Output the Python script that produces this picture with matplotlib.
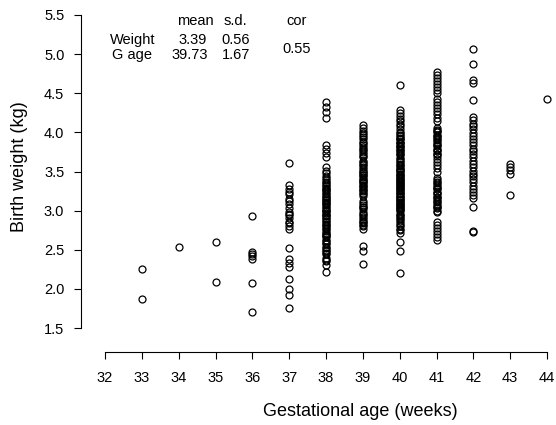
import matplotlib
matplotlib.use("Agg")
import matplotlib.pyplot as plt

plt.rcParams['font.family'] = ['Liberation Sans', 'DejaVu Sans']

# ---- data (gestational age in weeks -> birth weights in kg) ----
w33 = [2.26, 1.87]
w34 = [2.53]
w35 = [2.60, 2.09]
w36 = [2.93, 2.47, 2.45, 2.42, 2.38, 2.08, 1.70]
w37 = [3.61, 3.33, 3.27, 3.24, 3.21, 3.15, 3.12, 3.09, 3.03, 2.98, 2.96, 2.94, 2.90,
       2.86, 2.84, 2.80, 2.76, 2.52, 2.38, 2.33, 2.28, 2.12, 2.00, 1.92, 1.75]
w38 = [4.39, 4.33, 4.26, 4.18, 3.84, 3.79, 3.74, 3.69, 3.56, 3.51, 3.48, 3.44, 3.42,
       3.39, 3.36, 3.35, 3.31, 3.29, 3.26, 3.25, 3.21, 3.19, 3.18, 3.14, 3.11, 3.10,
       3.07, 3.05, 3.01, 3.00, 2.97, 2.94, 2.93, 2.89, 2.87, 2.85, 2.81, 2.80, 2.77,
       2.74, 2.72, 2.69, 2.66, 2.63, 2.61, 2.57, 2.54, 2.50, 2.48, 2.44, 2.40, 2.35,
       2.30, 2.22, 3.33, 3.28, 3.23, 3.16, 3.13, 3.08, 3.03, 2.99, 2.95, 2.91, 2.83,
       2.78, 2.70, 2.67, 2.59, 2.52, 2.46, 2.37]
w39 = [4.10, 4.06, 4.02, 3.99, 3.94, 3.91, 3.88, 3.84, 3.81, 3.79, 3.75, 3.72, 3.70,
       3.64, 3.62, 3.58, 3.56, 3.53, 3.51, 3.48, 3.46, 3.43, 3.41, 3.38, 3.36, 3.33,
       3.31, 3.28, 3.25, 3.21, 3.19, 3.10, 3.07, 3.04, 3.02, 2.98, 2.96, 2.92, 2.89,
       2.86, 2.84, 2.80, 2.76, 2.55, 2.49, 2.32, 3.97, 3.86, 3.77, 3.68, 3.60, 3.50,
       3.45, 3.39, 3.35, 3.30, 3.26, 3.23, 3.12, 3.05, 2.94, 2.87, 2.82]
w40 = [4.61, 4.29, 4.25, 4.21, 4.17, 4.14, 4.11, 4.08, 4.04, 4.01, 3.99, 3.96, 3.93,
       3.91, 3.88, 3.86, 3.83, 3.81, 3.79, 3.76, 3.74, 3.71, 3.67, 3.64, 3.62, 3.60,
       3.58, 3.55, 3.53, 3.51, 3.49, 3.47, 3.45, 3.43, 3.41, 3.39, 3.37, 3.35, 3.33,
       3.31, 3.29, 3.27, 3.25, 3.23, 3.21, 3.19, 3.17, 3.15, 3.13, 3.11, 3.09, 3.07,
       3.05, 3.03, 3.01, 2.99, 2.96, 2.93, 2.90, 2.87, 2.84, 2.80, 2.77, 2.75, 2.71,
       2.60, 2.49, 2.20, 3.97, 3.92, 3.87, 3.82, 3.77, 3.72, 3.66, 3.57, 3.52, 3.46,
       3.42, 3.38, 3.34, 3.30, 3.26, 3.22, 3.18, 3.14, 3.10, 3.06, 3.02, 2.95, 2.89,
       2.82]
w41 = [4.77, 4.73, 4.69, 4.66, 4.62, 4.58, 4.54, 4.50, 4.43, 4.39, 4.35, 4.31, 4.27,
       4.23, 4.19, 4.15, 4.06, 4.03, 4.00, 3.97, 3.94, 3.91, 3.88, 3.85, 3.82, 3.79,
       3.76, 3.73, 3.70, 3.66, 3.62, 3.58, 3.54, 3.50, 3.42, 3.39, 3.36, 3.33, 3.30,
       3.27, 3.24, 3.21, 3.18, 3.15, 3.12, 3.09, 3.06, 3.03, 2.98, 2.86, 2.82, 2.78,
       2.74, 2.70, 2.66, 2.62, 4.02, 3.96, 3.90, 3.84, 3.78, 3.72, 3.35, 3.29, 3.23,
       3.17, 3.11, 3.05, 3.00]
w42 = [5.07, 4.88, 4.67, 4.63, 4.41, 4.20, 4.16, 4.11, 4.08, 4.04, 3.99, 3.95, 3.92,
       3.88, 3.84, 3.79, 3.76, 3.72, 3.68, 3.63, 3.60, 3.56, 3.51, 3.47, 3.44, 3.40,
       3.36, 3.31, 3.28, 3.24, 3.20, 3.16, 3.05, 2.74, 2.73]
w43 = [3.60, 3.56, 3.52, 3.47, 3.20]
w44 = [4.43]

weeks = [33, 34, 35, 36, 37, 38, 39, 40, 41, 42, 43, 44]
weights = [w33, w34, w35, w36, w37, w38, w39, w40, w41, w42, w43, w44]

xticks = list(range(32, 45))
yticks = [1.5, 2.0, 2.5, 3.0, 3.5, 4.0, 4.5, 5.0, 5.5]

row_names = ["Weight", "G age"]
means = ["3.39", "39.73"]
sds = ["0.56", "1.67"]
cor = "0.55"

# ---- figure ----
W, H = 556, 425
fig = plt.figure(figsize=(W / 100, H / 100), dpi=100)
ax = fig.add_axes([81 / W, (H - 352) / H, (W - 81) / W, 352 / H])

pxw = (547 - 105) / 12.0
pxk = (328 - 15) / 4.0
ax.set_xlim(32 - (105 - 81) / pxw, 32 + (W - 105) / pxw)
ax.set_ylim(1.5 - (352 - 328) / pxk, 5.5 + 15 / pxk)

for wk, ws in zip(weeks, weights):
    ax.plot([wk] * len(ws), ws, linestyle='none', marker='o', markersize=5,
            markerfacecolor='none', markeredgecolor='black', markeredgewidth=0.9)

for s in ['top', 'right']:
    ax.spines[s].set_visible(False)
ax.spines['left'].set_bounds(1.5, 5.5)
ax.spines['bottom'].set_bounds(32, 44)
for s in ['left', 'bottom']:
    ax.spines[s].set_linewidth(0.8)

ax.set_xticks(xticks)
ax.set_xticklabels([str(t) for t in xticks])
ax.set_yticks(yticks)
ax.set_yticklabels([f"{t:.1f}" for t in yticks])
ax.tick_params(axis='both', length=5, width=0.8, labelsize=10.5, color='black')
ax.tick_params(axis='x', pad=9)
ax.tick_params(axis='y', pad=7)


def ftext(x, y, s, **kw):
    fig.text(x / W, 1 - y / H, s, **kw)


ftext(20, 167, "Birth weight (kg)", rotation=90, ha='center', va='center', fontsize=13)
ftext(360, 411, "Gestational age (weeks)", ha='center', va='center', fontsize=13)

fs = 10.5
ftext(195, 21, "mean", ha='center', va='center', fontsize=fs)
ftext(235, 21, "s.d.", ha='center', va='center', fontsize=fs)
ftext(297, 21, "cor", ha='center', va='center', fontsize=fs)
ftext(133, 40, row_names[0], ha='center', va='center', fontsize=fs)
ftext(132, 55, row_names[1], ha='center', va='center', fontsize=fs)
ftext(193, 40, means[0], ha='center', va='center', fontsize=fs)
ftext(190, 55, means[1], ha='center', va='center', fontsize=fs)
ftext(236, 40, sds[0], ha='center', va='center', fontsize=fs)
ftext(236, 55, sds[1], ha='center', va='center', fontsize=fs)
ftext(297, 49, cor, ha='center', va='center', fontsize=fs)

fig.savefig("out.png", dpi=100)
